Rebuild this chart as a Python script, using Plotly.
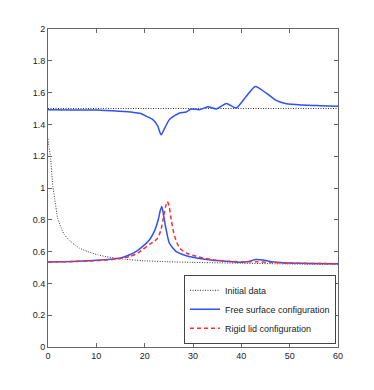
import plotly.graph_objects as go

# initial data (dotted)
x_init_up = [0, 60]
y_init_up = [1.5, 1.5]
x_init_low = [0, 0.2, 0.5, 1, 1.4, 2, 2.7, 3.4, 4.4, 5.5, 6.5, 8.2, 10.3, 12, 13.8, 16, 19.4, 25, 30, 40, 50, 60]
y_init_low = [1.31, 1.26, 1.2, 1.01, 0.93, 0.81, 0.75, 0.706, 0.672, 0.643, 0.622, 0.6, 0.58, 0.568, 0.56, 0.552, 0.543, 0.536, 0.532, 0.527, 0.522, 0.518]

# free surface configuration
x_fs_up = [0, 5, 10, 14.8, 17.5, 19, 20.3, 21.7, 22.7, 23.4, 24.2, 25.1, 26.2, 27.2, 28.6, 29.6, 31.3, 33.1, 34.8, 36.9, 38.9, 41, 42.9, 45.1, 47.2, 49.3, 52.7, 56.2, 60]
y_fs_up = [1.492, 1.491, 1.49, 1.482, 1.476, 1.47, 1.452, 1.43, 1.39, 1.335, 1.38, 1.43, 1.455, 1.472, 1.478, 1.497, 1.492, 1.511, 1.497, 1.532, 1.503, 1.576, 1.639, 1.598, 1.551, 1.53, 1.522, 1.518, 1.514]
x_fs_low = [0, 5, 10, 13, 15, 16.9, 18.25, 19.6, 21, 22, 22.8, 23.2, 23.55, 23.9, 24.45, 25.1, 26.5, 28.6, 30.7, 34.1, 37.5, 40, 41.5, 43, 44.5, 46, 48, 50, 55, 60]
y_fs_low = [0.535, 0.537, 0.545, 0.552, 0.56, 0.58, 0.601, 0.633, 0.675, 0.727, 0.8, 0.855, 0.884, 0.83, 0.738, 0.654, 0.601, 0.574, 0.56, 0.545, 0.538, 0.533, 0.538, 0.55, 0.547, 0.538, 0.532, 0.528, 0.525, 0.524]

# rigid lid configuration
x_rl = [0, 5, 10, 13, 15, 17, 18.5, 19.6, 21, 22, 22.7, 23.3, 23.8, 24.3, 24.7, 25.1, 25.5, 26.2, 27.2, 28.6, 30.7, 34, 37, 40, 43, 46, 50, 55, 60]
y_rl = [0.535, 0.537, 0.543, 0.55, 0.557, 0.57, 0.59, 0.613, 0.645, 0.665, 0.685, 0.73, 0.8, 0.88, 0.915, 0.88, 0.8, 0.696, 0.623, 0.591, 0.57, 0.549, 0.54, 0.535, 0.536, 0.532, 0.528, 0.525, 0.524]

blue = "#2f52f5"
red = "#ff2a2a"
dotted = "#333333"

fig = go.Figure()
fig.add_trace(go.Scatter(x=x_init_low, y=y_init_low, mode="lines", name="Initial data",
                         line=dict(color=dotted, width=1, dash="1px,1.5px", shape="spline", smoothing=0.5),
                         legendgroup="init"))
fig.add_trace(go.Scatter(x=x_init_up, y=y_init_up, mode="lines", showlegend=False,
                         line=dict(color=dotted, width=1, dash="1px,1.5px"), legendgroup="init"))
fig.add_trace(go.Scatter(x=x_fs_low, y=y_fs_low, mode="lines", name="Free surface configuration",
                         line=dict(color=blue, width=1.5, shape="spline", smoothing=0.6),
                         legendgroup="fs"))
fig.add_trace(go.Scatter(x=x_fs_up, y=y_fs_up, mode="lines", showlegend=False,
                         line=dict(color=blue, width=1.5, shape="spline", smoothing=0.6),
                         legendgroup="fs"))
fig.add_trace(go.Scatter(x=x_rl, y=y_rl, mode="lines", name="Rigid lid configuration",
                         line=dict(color=red, width=1.5, dash="4px,3px", shape="spline", smoothing=0.6)))

axis_style = dict(
    showgrid=False, zeroline=False, showline=True, linecolor="#666666", linewidth=1,
    mirror="ticks", ticks="inside", ticklen=4, tickcolor="#666666",
    tickfont=dict(family="Liberation Sans, Arial, sans-serif", size=9, color="#222222"),
)
fig.update_xaxes(range=[0, 60], tickvals=[0, 10, 20, 30, 40, 50, 60], **axis_style)
fig.update_yaxes(range=[0, 2], tickvals=[0, 0.2, 0.4, 0.6, 0.8, 1, 1.2, 1.4, 1.6, 1.8, 2],
                 ticktext=["0", "0.2", "0.4", "0.6", "0.8", "1", "1.2", "1.4", "1.6", "1.8", "2"],
                 **axis_style)

# the page body adds an 8px margin, so the figure is a bit smaller than the window
fig.update_layout(
    width=366, height=382,
    margin=dict(l=40, r=36, t=21, b=43),
    plot_bgcolor="white", paper_bgcolor="white",
    legend=dict(x=0.993, y=0.01, xanchor="right", yanchor="bottom",
                bgcolor="white", bordercolor="#444444", borderwidth=1,
                font=dict(family="Liberation Sans, Arial, sans-serif", size=9, color="#222222"),
                itemwidth=30, tracegroupgap=0),
)

fig.write_html("out.html")
